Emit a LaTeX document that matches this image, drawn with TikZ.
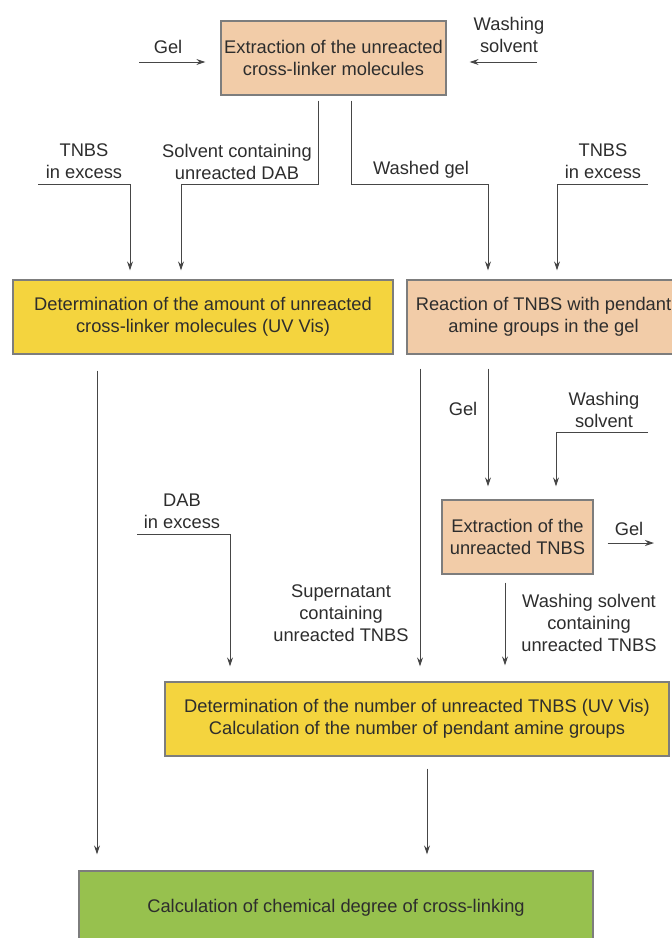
\documentclass[tikz,border=0pt]{standalone}
\usepackage{fontspec}
\setmainfont{Liberation Sans}
\usetikzlibrary{arrows.meta}
\definecolor{peach}{RGB}{242,204,168}
\definecolor{yel}{RGB}{244,212,62}
\definecolor{grn}{RGB}{151,193,78}
\definecolor{bord}{RGB}{125,125,125}
\definecolor{ln}{RGB}{70,70,70}
\definecolor{txt}{RGB}{45,45,45}
\begin{document}
\begin{tikzpicture}[x=1pt,y=-1pt,
  every node/.style={font=\fontsize{18.3}{22}\selectfont, text=txt, align=center},
  box/.style={draw=bord, line width=1.3pt, inner sep=0pt, minimum height=74pt},
  lbl/.style={inner sep=0pt},
  arr/.style={draw=ln, line width=1pt, -{Stealth[length=9pt,width=6pt]}}]
\useasboundingbox (0,0) rectangle (672,938);

% boxes
\node[box, fill=peach, minimum width=225pt] (b1) at (333.5,58) {Extraction of the unreacted\\cross-linker molecules};
\node[box, fill=yel, minimum width=380pt] (b2) at (203,317) {Determination of the amount of unreacted\\cross-linker molecules (UV Vis)};
\node[box, fill=peach, minimum width=273pt] (b3) at (543.5,317) {Reaction of TNBS with pendant\\amine groups in the gel};
\node[box, fill=peach, minimum width=151pt] (b4) at (517.5,537) {Extraction of the\\unreacted TNBS};
\node[box, fill=yel, minimum width=504pt] (b5) at (417,719) {Determination of the number of unreacted TNBS (UV Vis)\\Calculation of the number of pendant amine groups};
\node[box, fill=grn, minimum width=514pt] (b6) at (336,908) {Calculation of chemical degree of cross-linking};

% labels
\node[lbl] (lgel1) at (168,47) {Gel};
\node[lbl] (lwash1) at (509,34.5) {Washing\\solvent};
\node[lbl] (lsolv) at (237,161.5) {Solvent containing\\unreacted DAB};
\node[lbl] (lwashed) at (421,170) {Washed gel};
\node[lbl] (ltnbs1) at (84,161) {TNBS\\in excess};
\node[lbl] (ltnbs2) at (603,161) {TNBS\\in excess};
\node[lbl] (lgel2) at (463,409) {Gel};
\node[lbl] (lwash2) at (604,409.5) {Washing\\solvent};
\node[lbl] (ldab) at (182,511) {DAB\\in excess};
\node[lbl] (lgel3) at (629,529) {Gel};
\node[lbl] (lsup) at (341,613) {Supernatant\\containing\\unreacted TNBS};
\node[lbl] (lwsc) at (589,623) {Washing solvent\\containing\\unreacted TNBS};

% free ends
\coordinate (gelin) at (139,62);
\coordinate (washin) at (537,62);
\coordinate (tnbsA) at (38,184);
\coordinate (tnbsB) at (648,184);
\coordinate (washB) at (648,432);
\coordinate (dabin) at (137,534);
\coordinate (gelout) at (654,543);

% connectors
\draw[arr, shorten >=15pt] (gelin) -- (b1.west |- gelin);
\draw[arr, shorten >=23pt] (washin) -- (b1.east |- washin);
\draw[arr, shorten <=5pt, shorten >=9pt] (b1.south -| 318,0) -- (318,184) -- (181,184) -- (b2.north -| 181,0);
\draw[arr, shorten <=5pt, shorten >=9pt] (b1.south -| 351,0) -- (351,184) -- (488,184) -- (b3.north -| 488,0);
\draw[arr, shorten >=9pt] (tnbsA) -- (130,184) -- (b2.north -| 130,0);
\draw[arr, shorten >=9pt] (tnbsB) -- (557,184) -- (b3.north -| 557,0);
\draw[arr, shorten <=16pt, shorten >=16pt] (b2.south -| 97,0) -- (b6.north -| 97,0);
\draw[arr, shorten <=14pt, shorten >=15pt] (b3.south -| 420,0) -- (b5.north -| 420,0);
\draw[arr, shorten <=14pt, shorten >=13pt] (b3.south -| 488,0) -- (b4.north -| 488,0);
\draw[arr, shorten >=13pt] (washB) -- (556,432) -- (b4.north -| 556,0);
\draw[arr, shorten <=14pt] (b4.east |- gelout) -- (gelout);
\draw[arr, shorten <=8pt, shorten >=16pt] (b4.south -| 505,0) -- (b5.north -| 505,0);
\draw[arr, shorten >=15pt] (dabin) -- (230,534) -- (b5.north -| 230,0);
\draw[arr, shorten <=12pt, shorten >=16pt] (b5.south -| 427,0) -- (b6.north -| 427,0);
\end{tikzpicture}
\end{document}
